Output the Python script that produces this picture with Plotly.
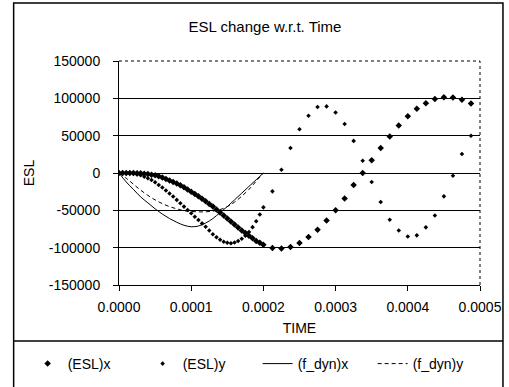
import plotly.graph_objects as go

# ---------------- data (time in seconds) ----------------
time_dense = [i * 5e-6 for i in range(41)]          # 0 ... 0.0002
time_sparse = [0.0002125 + i * 1.25e-5 for i in range(23)]  # 0.0002125 ... 0.0004875
time_esl = time_dense + time_sparse

esl_x_dense = [0, 0, 0, 0, 0, -200, -500, -1000, -1500, -2200,
               -3000, -4400, -6000, -8000, -10000, -12000, -14000, -16500, -19000, -22000,
               -25000, -28000, -31000, -34500, -38000, -41500, -45000, -49000, -53000, -57000,
               -61000, -65000, -69000, -73000, -77000, -80500, -84000, -87500, -91000, -93500,
               -96000]
esl_x_sparse = [-100400, -101000, -99000, -93700, -85700, -76000, -63500, -50000, -34000, -16000,
                0, 17000, 33500, 49000, 63500, 76000, 86000, 93500, 99000, 101500,
                101000, 98000, 93000]

esl_y_dense = [0, 0, 0, -300, -1000, -2000, -3000, -5000, -7000, -9500,
               -12500, -16000, -19500, -23500, -27500, -31500, -36000, -40500, -45000, -49500,
               -54000, -58500, -63000, -67500, -72000, -77000, -82000, -86000, -89500, -92000,
               -93500, -94000, -93000, -91000, -88000, -84000, -79000, -72500, -64500, -55500,
               -46000]
esl_y_sparse = [-24600, 4400, 33500, 58600, 76700, 88400, 89200, 81000, 65600, 43000,
                16500, -12000, -38800, -62500, -77000, -85000, -83500, -72800, -56800, -31300,
                -3600, 25400, 50000]

esl_x = esl_x_dense + esl_x_sparse
esl_y = esl_y_dense + esl_y_sparse

time_fdyn = [i * 1e-5 for i in range(21)]           # 0 ... 0.0002
fdyn_x = [0, -12000, -22000, -32000, -40000, -48000, -55000, -61000, -66000, -70000,
          -72000, -71000, -67000, -61000, -53000, -45000, -36000, -27000, -18000, -9000, 0]
fdyn_y = [0, -7000, -15000, -23000, -30000, -36000, -41000, -45000, -48000, -50500,
          -51500, -52000, -52000, -51000, -49000, -45000, -39000, -31000, -22000, -11000, 0]

x_ticks = [0, 0.0001, 0.0002, 0.0003, 0.0004, 0.0005]
x_ticktext = ["0.0000", "0.0001", "0.0002", "0.0003", "0.0004", "0.0005"]
y_ticks = [-150000, -100000, -50000, 0, 50000, 100000, 150000]
y_ticktext = ["-150000", "-100000", "-50000", "0", "50000", "100000", "150000"]

# ---------------- layout geometry (pixels) ----------------
WIDTH, HEIGHT = 509, 387
L, R, T, B = 118.5, 480, 61, 285
PW, PH = R - L, B - T


def px(xp):
    return (xp - L) / PW


def py(yp):
    return (B - yp) / PH


FONT = "Liberation Sans, Arial, sans-serif"

fig = go.Figure()
fig.add_trace(go.Scatter(x=time_esl, y=esl_x, mode="markers", name="(ESL)x",
                         marker=dict(symbol="diamond", size=5, color="black")))
fig.add_trace(go.Scatter(x=time_esl, y=esl_y, mode="markers", name="(ESL)y",
                         marker=dict(symbol="diamond", size=3.5, color="black")))
fig.add_trace(go.Scatter(x=time_fdyn, y=fdyn_x, mode="lines", name="(f_dyn)x",
                         line=dict(color="black", width=1, shape="spline")))
fig.add_trace(go.Scatter(x=time_fdyn, y=fdyn_y, mode="lines", name="(f_dyn)y",
                         line=dict(color="black", width=1, dash="4px,3px", shape="spline")))
# empty helper trace so the tick-mark-only overlay axes get drawn
fig.add_trace(go.Scatter(x=[], y=[], xaxis="x2", yaxis="y2", showlegend=False, hoverinfo="skip"))

shapes = [
    # outer chart frame
    dict(type="rect", xref="paper", yref="paper", x0=px(13), x1=px(503), y0=py(400), y1=py(3),
         line=dict(color="black", width=1.5), layer="above"),
    # legend box top line
    dict(type="line", xref="paper", yref="paper", x0=px(13), x1=px(503), y0=py(341), y1=py(341),
         line=dict(color="black", width=1.5), layer="above"),
    # dotted top / right plot borders
    dict(type="line", xref="paper", yref="paper", x0=0, x1=1, y0=1, y1=1,
         line=dict(color="white", width=2), layer="above"),
    dict(type="line", xref="paper", yref="paper", x0=0, x1=1, y0=1, y1=1,
         line=dict(color="black", width=1, dash="dot"), layer="above"),
    dict(type="line", xref="paper", yref="paper", x0=1, x1=1, y0=0, y1=1,
         line=dict(color="black", width=1, dash="dot"), layer="above"),
]

fig.update_layout(
    width=WIDTH, height=HEIGHT,
    margin=dict(l=L, r=WIDTH - R, t=T, b=HEIGHT - B, autoexpand=False),
    paper_bgcolor="white", plot_bgcolor="white",
    font=dict(family=FONT, size=14, color="black"),
    title=dict(text="ESL change w.r.t. Time", x=265 / WIDTH, xref="container",
               xanchor="center", y=1 - 27 / HEIGHT, yref="container", yanchor="middle",
               font=dict(size=15)),
    xaxis=dict(range=[0, 0.0005], tickvals=x_ticks, ticktext=x_ticktext,
               showgrid=False, zeroline=False, showline=True, linecolor="black", linewidth=1,
               ticks="outside", ticklen=9, tickcolor="rgba(0,0,0,0)",
               title=dict(text="TIME", standoff=9, font=dict(size=14))),
    xaxis2=dict(overlaying="x", matches="x", side="bottom", anchor="y2", tickvals=x_ticks,
                showticklabels=False, showgrid=False, zeroline=False, showline=False,
                ticks="outside", ticklen=5, tickcolor="black"),
    yaxis=dict(range=[-150000, 150000], tickvals=y_ticks, ticktext=y_ticktext,
               showgrid=True, gridcolor="black", gridwidth=1, zeroline=False,
               showline=True, linecolor="black", linewidth=1,
               ticks="outside", ticklen=15, tickcolor="rgba(0,0,0,0)",
               title=dict(text="ESL", standoff=10, font=dict(size=14))),
    yaxis2=dict(overlaying="y", matches="y", side="left", anchor="x2", tickvals=y_ticks,
                showticklabels=False, showgrid=False, zeroline=False, showline=False,
                ticks="outside", ticklen=5, tickcolor="black"),
    legend=dict(orientation="h", xref="paper", yref="paper",
                x=px(27), xanchor="left", y=py(364), yanchor="middle",
                bgcolor="rgba(0,0,0,0)", font=dict(size=14),
                entrywidthmode="pixels", entrywidth=70),
    shapes=shapes,
)

fig.write_html("out.html")
